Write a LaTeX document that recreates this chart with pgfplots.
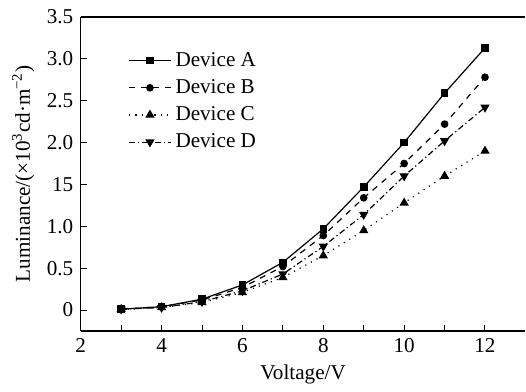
\documentclass[border=0pt]{standalone}
\usepackage{pgfplots}
\pgfplotsset{compat=1.18}
\usepackage{fontspec}
\setmainfont{Liberation Serif}
\begin{document}
\fontsize{10.6pt}{12pt}\selectfont
\begin{tikzpicture}
\begin{axis}[
  at={(0,0)}, anchor=south west,
  scale only axis,
  width=223pt, height=157.5pt,
  xmin=2, xmax=13, ymin=-0.25, ymax=3.5,
  axis y line*=left, axis x line*=box,
  xtick={2,4,...,12}, minor xtick={3,5,...,11},
  xtick pos=bottom, ytick pos=left,
  ytick={0,0.5,1,1.5,2,2.5,3,3.5},
  yticklabels={0,0.5,1.0,15,2.0,2.5,3.0,3.5},
  tick align=inside,
  major tick length=3pt, minor tick length=3pt,
  axis line style={line width=0.6pt},
  tick style={line width=0.5pt, black},
  /pgf/number format/assume math mode=true,
  ticklabel style={font=\fontsize{10.6pt}{12pt}\selectfont},
  label style={font=\fontsize{10.6pt}{12pt}\selectfont},
  xlabel={Voltage/V},
  ylabel={Luminance/(×10\textsuperscript{3}cd·m\textsuperscript{−2})},
  xlabel style={yshift=1pt},
  ylabel style={yshift=-1pt},
  legend style={draw=none, fill=none, at={(axis cs:3.02,3.18)}, anchor=north west,
    font=\fontsize{10.6pt}{12pt}\selectfont, row sep=1pt},
  legend cell align=left,
  legend image code/.code={
    \draw[mark repeat=2,mark phase=2,#1] plot coordinates {(0cm,0cm) (0.37cm,0cm) (0.74cm,0cm)};},
  every axis plot/.append style={black, line width=0.6pt},
]
\addplot[solid, mark=square*, mark size=1.6pt, mark options={solid}] coordinates {
  (3,0.01) (4,0.04) (5,0.13) (6,0.30) (7,0.57) (8,0.97) (9,1.47) (10,2.00) (11,2.59) (12,3.13)};
\addlegendentry{Device A}
\addplot[dash pattern=on 3pt off 3pt, mark=*, mark size=1.6pt, mark options={solid}] coordinates {
  (3,0.01) (4,0.04) (5,0.12) (6,0.27) (7,0.52) (8,0.89) (9,1.34) (10,1.75) (11,2.22) (12,2.78)};
\addlegendentry{Device B}
\addplot[dash pattern=on 0.6pt off 2.6pt, mark=triangle*, mark size=2.1pt, mark options={solid}] coordinates {
  (3,0.01) (4,0.03) (5,0.09) (6,0.21) (7,0.39) (8,0.65) (9,0.95) (10,1.28) (11,1.60) (12,1.90)};
\addlegendentry{Device C}
\addplot[dash pattern=on 3pt off 1.5pt on 0.6pt off 1.5pt, mark=triangle*, mark size=2.1pt, mark options={solid, rotate=180}] coordinates {
  (3,0.01) (4,0.03) (5,0.10) (6,0.23) (7,0.43) (8,0.76) (9,1.14) (10,1.60) (11,2.02) (12,2.42)};
\addlegendentry{Device D}
\end{axis}
\useasboundingbox (-40.5pt,-28pt) rectangle (222.5pt,166pt);
\end{tikzpicture}
\end{document}
